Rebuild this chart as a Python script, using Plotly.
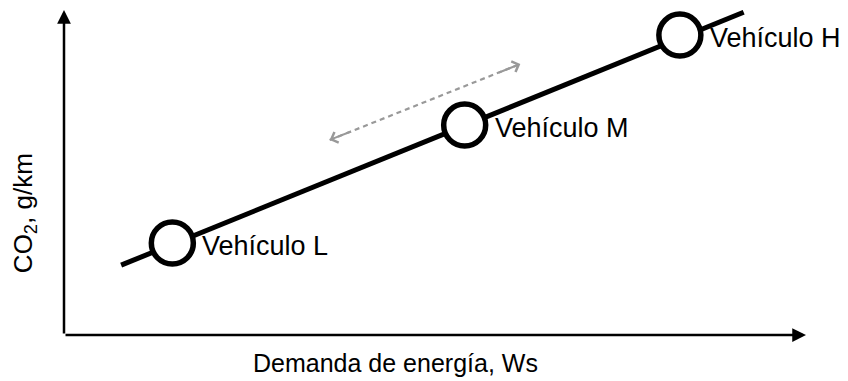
import plotly.graph_objects as go

# conceptual chart values (0-100 scale on both axes)
vehicles = ["Vehículo L", "Vehículo M", "Vehículo H"]
energy = [14.6, 54.0, 83.0]
co2 = [28.3, 64.6, 92.3]

trend_x = [7.7, 91.6]
trend_y = [21.5, 99.3]

range_x = [35.8, 61.5]
range_y = [60.0, 83.4]

x_title = "Demanda de energía, Ws"
y_title = "CO<sub>2</sub>, g/km"

font = "Arial, Liberation Sans, sans-serif"
gray = "#999999"

fig = go.Figure()

# trend line
fig.add_trace(go.Scatter(x=trend_x, y=trend_y, mode="lines",
                         line=dict(color="black", width=5), hoverinfo="skip"))

# dashed double arrow (shaft)
fig.add_trace(go.Scatter(x=range_x, y=range_y, mode="lines",
                         line=dict(color=gray, width=2.2, dash="5px,4px"), hoverinfo="skip"))

# vehicle circles
fig.add_trace(go.Scatter(x=energy, y=co2, mode="markers",
                         marker=dict(size=42, color="white",
                                     line=dict(color="black", width=5.5)),
                         hoverinfo="skip"))

annotations = []

# axes with arrowheads
annotations.append(dict(x=100, y=0, ax=0, ay=0, xref="x", yref="y", axref="x", ayref="y",
                        showarrow=True, arrowhead=2, arrowsize=1.1, arrowwidth=2.5,
                        arrowcolor="black", text=""))
annotations.append(dict(x=0, y=100, ax=0, ay=0, xref="x", yref="y", axref="x", ayref="y",
                        showarrow=True, arrowhead=2, arrowsize=1.1, arrowwidth=2.5,
                        arrowcolor="black", text=""))

# chevron heads on the dashed arrow
dx = range_x[1] - range_x[0]
dy = range_y[1] - range_y[0]
for i, s in [(1, -1), (0, 1)]:
    annotations.append(dict(x=range_x[i], y=range_y[i],
                            ax=range_x[i] + s * 0.12 * dx, ay=range_y[i] + s * 0.12 * dy,
                            xref="x", yref="y", axref="x", ayref="y",
                            showarrow=True, arrowhead=4, arrowsize=1.1, arrowwidth=2,
                            arrowcolor=gray, text=""))

# vehicle labels
for name, xv, yv in zip(vehicles, energy, co2):
    annotations.append(dict(x=xv, y=yv, xref="x", yref="y", text=name, showarrow=False,
                            xanchor="left", yanchor="middle", xshift=28, yshift=-3,
                            font=dict(family=font, size=27, color="black")))

# axis titles
annotations.append(dict(x=44.7, y=0, xref="x", yref="y", text=x_title, showarrow=False,
                        xanchor="center", yanchor="middle", yshift=-28,
                        font=dict(family=font, size=25, color="black")))
annotations.append(dict(x=0, y=37.5, xref="x", yref="y", text=y_title, showarrow=False,
                        xanchor="center", yanchor="middle", xshift=-40, textangle=-90,
                        font=dict(family=font, size=26, color="black")))

# page body adds an 8px margin, so the figure is made 8px smaller and shifted
fig.update_layout(
    width=840, height=373,
    margin=dict(l=56, r=42, t=2, b=46),
    paper_bgcolor="white", plot_bgcolor="white",
    showlegend=False,
    xaxis=dict(range=[0, 100], visible=False, fixedrange=True),
    yaxis=dict(range=[0, 100], visible=False, fixedrange=True),
    annotations=annotations,
)

fig.write_html("out.html")
